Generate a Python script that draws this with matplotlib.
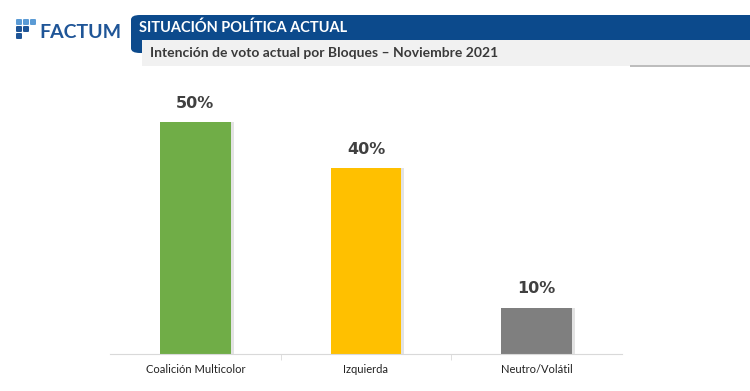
import numpy as np
import matplotlib
matplotlib.use('Agg')
import matplotlib.pyplot as plt
from matplotlib.patches import Rectangle, FancyBboxPatch

categorias = ['Coalición Multicolor', 'Izquierda', 'Neutro/Volátil']
valores = [50, 40, 10]
colores = ['#70ad47', '#ffc000', '#7f7f7f']

titulo = 'SITUACIÓN POLÍTICA ACTUAL'
subtitulo = 'Intención de voto actual por Bloques – Noviembre 2021'

plt.rcParams['font.family'] = ['Lato', 'DejaVu Sans']

W, H = 750, 391
fig = plt.figure(figsize=(7.5, 3.91), dpi=100)
fig.patch.set_facecolor('white')


def fx(x):
    return x / W


def fy(y):
    return 1 - y / H


# cabecera
blue = '#0c4a8c'
fig.patches.append(FancyBboxPatch((fx(131), fy(53)), fx(700), fy(15) - fy(53),
                                  boxstyle='round,pad=0,rounding_size=0.012',
                                  transform=fig.transFigure, facecolor=blue,
                                  edgecolor='none', zorder=1))
fig.patches.append(Rectangle((fx(142), fy(66)), fx(620), fy(40) - fy(66),
                             transform=fig.transFigure, facecolor='#f1f1f1',
                             edgecolor='none', zorder=2))
fig.patches.append(Rectangle((fx(630), fy(67)), fx(130), fy(65) - fy(67),
                             transform=fig.transFigure, facecolor='#bdbdbd',
                             edgecolor='none', zorder=2))
fig.text(fx(139), fy(28), titulo, color='white', fontsize=10.5,
         fontweight='bold', va='center', ha='left', zorder=3)
fig.text(fx(150), fy(53), subtitulo, color='#3a3a3a', fontsize=10,
         fontweight='bold', va='center', ha='left', zorder=3)

# logo
cuadros = [(16, 19, '#5b9bd5'), (23, 19, '#5b9bd5'), (30, 19, '#5b9bd5'),
           (16, 26, '#1f5597'), (23, 26, '#1f5597'),
           (16, 33, '#1f5597')]
for x0, y0, c in cuadros:
    fig.patches.append(FancyBboxPatch((fx(x0), fy(y0 + 6)), fx(6), fy(y0) - fy(y0 + 6),
                                      boxstyle='round,pad=0,rounding_size=0.002',
                                      transform=fig.transFigure, facecolor=c,
                                      edgecolor='none'))
fig.text(fx(39), fy(32), 'FACTUM', color='#1f5597', fontsize=14,
         fontweight='bold', va='center', ha='left')

# grafico
ax = fig.add_axes([fx(110), fy(354), fx(512), fy(80) - fy(354)])
x = np.arange(len(categorias))
# sombra
ax.bar(x + 0.018, valores, width=0.415, color='#e3e3e3', zorder=1)
bars = ax.bar(x, valores, width=0.415, color=colores, zorder=2)
for xi, v in zip(x, valores):
    ax.text(xi, v + 2.4, f'{v}%', ha='center', va='bottom', fontsize=11.5,
            fontweight='bold', color='#404040', family=['DejaVu Sans'])

ax.set_xlim(-0.5, 2.5)
ax.set_ylim(0, 59)
ax.set_yticks([])
ax.set_xticks(x)
ax.set_xticklabels(categorias, fontsize=8, color='#222222')
ax.set_xticks([0.5, 1.5], minor=True)
ax.tick_params(axis='x', which='major', length=0, pad=7)
ax.tick_params(axis='x', which='minor', length=4, color='#d9d9d9', direction='out')
for s in ['top', 'right', 'left']:
    ax.spines[s].set_visible(False)
ax.spines['bottom'].set_color('#d9d9d9')
ax.patch.set_alpha(0)

fig.savefig('out.png', dpi=100)
